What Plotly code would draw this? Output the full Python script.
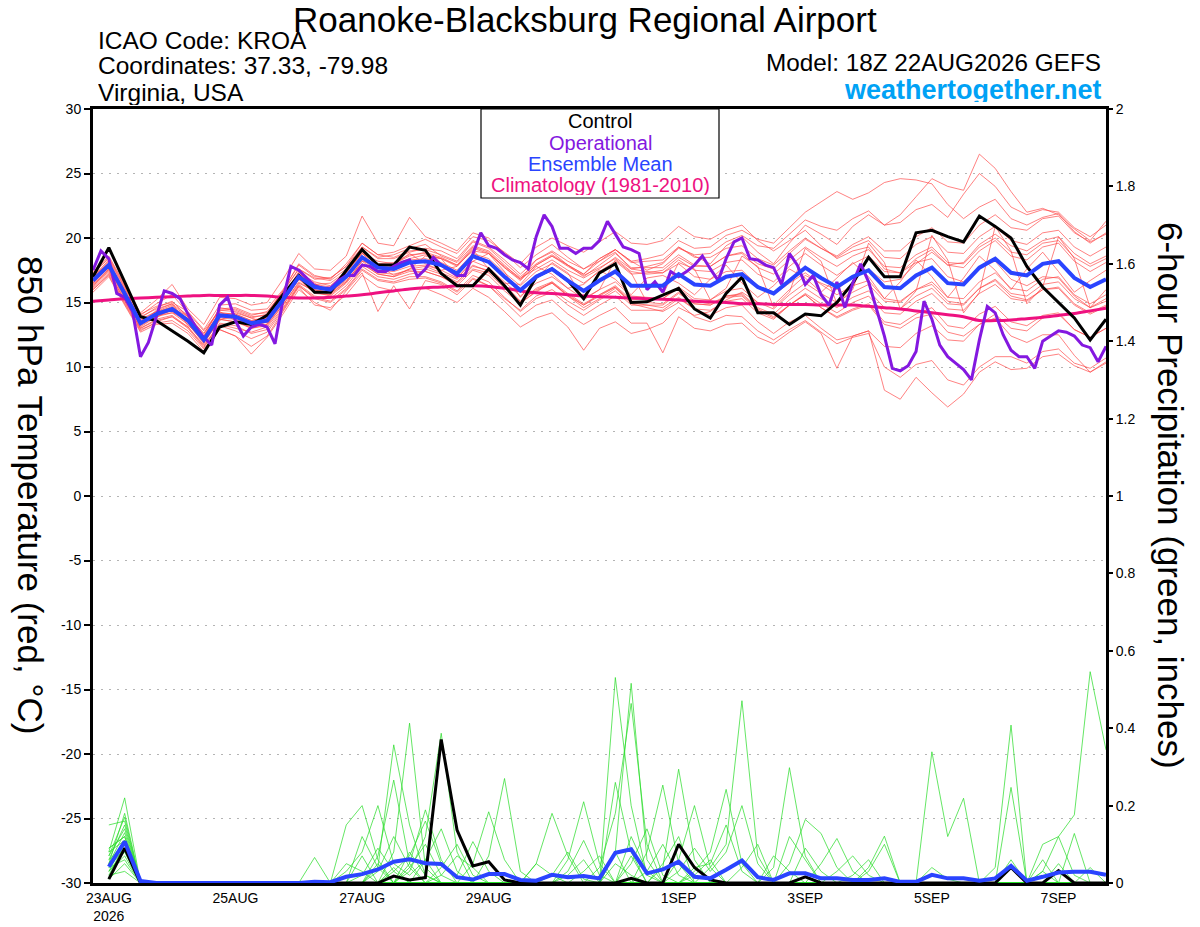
import plotly.graph_objects as go
import pandas as pd

FONT = "Liberation Sans"

# ---------------- time axes ----------------
RUN_START = "2026-08-22 18:00"
RUN_END = "2026-09-07 18:00"
PRCP_START = "2026-08-23 00:00"

x_tickvals = ["2026-08-23", "2026-08-25", "2026-08-27", "2026-08-29",
              "2026-09-01", "2026-09-03", "2026-09-05", "2026-09-07"]
x_ticktext = ["23AUG<br>2026", "25AUG", "27AUG", "29AUG", "1SEP", "3SEP", "5SEP", "7SEP"]

y_tickvals = list(range(-30, 31, 5))
y_ticktext = [str(v) for v in y_tickvals]
y2_tickvals = [0, 0.2, 0.4, 0.6, 0.8, 1.0, 1.2, 1.4, 1.6, 1.8, 2.0]
y2_ticktext = ["0", "0.2", "0.4", "0.6", "0.8", "1", "1.2", "1.4", "1.6", "1.8", "2"]

# ---------------- 850 hPa temperature (6-hourly, 65 values) ----------------
temp_control = [17.0, 19.25, 16.6, 13.9, 13.6, 12.8, 12.0, 11.1, 13.1, 13.5,
                13.3, 14.0, 15.6, 17.1, 15.8, 15.8, 17.5, 19.1, 17.9, 17.9,
                19.3, 19.05, 17.25, 16.3, 16.3, 17.6, 16.3, 14.8, 17.0, 17.6,
                16.7, 15.3, 17.3, 18.0, 15.0, 15.05, 15.6, 16.1, 14.5, 13.8,
                15.7, 16.96, 14.2, 14.2, 13.3, 14.1, 13.97, 15.0, 16.5, 18.5,
                17.0, 17.0, 20.4, 20.6, 20.1, 19.7, 21.7, 20.9, 20.0, 17.8,
                16.2, 15.0, 13.8, 12.1, 13.7]

temp_mean = [16.7, 17.9, 15.7, 13.4, 14.1, 14.5, 13.6, 12.1, 14.0, 13.9,
             13.4, 13.6, 15.2, 17.0, 16.2, 16.0, 17.0, 18.5, 17.7, 17.6,
             18.1, 18.2, 17.9, 17.25, 18.6, 18.15, 17.0, 15.95, 17.0, 17.6,
             16.7, 15.9, 16.7, 17.4, 16.3, 16.3, 16.3, 17.2, 16.4, 16.3,
             17.0, 17.2, 16.2, 15.7, 16.75, 17.7, 16.9, 16.2, 17.0, 17.5,
             16.2, 16.1, 17.1, 17.7, 16.5, 16.4, 17.7, 18.4, 17.3, 17.1,
             18.0, 18.2, 16.9, 16.2, 16.8]

temp_clim = [15.1, 15.2, 15.3, 15.35, 15.4, 15.45, 15.5, 15.55, 15.55, 15.55,
             15.55, 15.5, 15.4, 15.35, 15.35, 15.4, 15.5, 15.6, 15.75, 15.9,
             16.05, 16.15, 16.2, 16.3, 16.3, 16.25, 16.1, 15.9, 15.75, 15.7,
             15.6, 15.5, 15.45, 15.4, 15.35, 15.3, 15.25, 15.2, 15.1, 15.05,
             15.0, 14.9, 14.9, 14.85, 14.85, 14.85, 14.8, 14.8, 14.8, 14.7,
             14.6, 14.5, 14.35, 14.2, 14.05, 13.9, 13.6, 13.6, 13.65, 13.75,
             13.85, 14.0, 14.15, 14.35, 14.55]

# operational run, 3-hourly (129 values)
temp_oper = [17.5, 19.0, 18.4, 15.7,  15.4, 14.3, 10.8, 11.9,
             13.9, 15.9, 15.7, 15.3,  14.1, 13.1, 12.3, 11.7,
             14.8, 15.4, 13.6, 12.4,  13.1, 13.3, 13.1, 11.8,
             15.2, 17.8, 17.5, 16.9,  16.3, 16.1, 16.1, 16.7,
             17.1, 17.1, 17.9, 17.8,  17.4, 17.4, 17.8, 18.1,
             18.3, 17.0, 17.6, 18.5,  17.9, 17.5, 17.1, 17.1,
             18.7, 20.4, 19.4, 19.2,  18.7, 18.3, 18.1, 17.6,
             20.1, 21.8, 20.9, 19.2,  19.2, 18.8, 19.2, 19.2,
             19.8, 21.3, 20.3, 19.3,  19.1, 18.8, 16.0, 16.6,
             15.8, 17.4, 17.0, 17.4,  17.9, 18.6, 17.6, 16.7,
             18.4, 19.7, 20.0, 18.4,  18.3, 17.9, 17.7, 16.4,
             18.8, 17.9, 16.4, 17.1,  15.6, 14.8, 16.6, 14.6,
             16.5, 18.0, 16.6, 14.4,  12.4, 9.9, 9.7, 10.1,
             11.2, 15.1, 13.7, 11.7,  10.8, 10.3, 9.8, 9.0,
             12.1, 14.7, 14.2, 12.5,  11.3, 10.8, 10.8, 9.9,
             12.0, 12.4, 12.8, 12.7,  12.4, 11.7, 11.5, 10.4,
             11.6]

# ensemble members (6-hourly, 65 values each)
temp_m01 = [16.9, 18.2, 15.9, 13.8, 14.6, 15.1, 13.9, 12.6, 14.5, 14.6,
            14.1, 14.2, 15.9, 17.6, 16.8, 16.9, 17.8, 19.3, 18.5, 18.7,
            19.2, 19.5, 18.6, 18.1, 19.4, 19.0, 17.9, 16.8, 18.3, 18.9,
            17.9, 17.2, 18.4, 19.1, 18.2, 17.5, 18.0, 19.3, 18.6, 18.0,
            19.4, 20.1, 18.9, 18.0, 19.6, 21.0, 20.3, 19.5, 20.9, 21.8,
            21.0, 21.8, 23.2, 24.6, 24.0, 23.7, 26.5, 25.4, 23.6, 22.0,
            22.3, 21.8, 20.7, 19.8, 21.3]
temp_m02 = [16.3, 17.4, 15.1, 13.0, 13.6, 13.9, 13.1, 11.7, 13.3, 13.0,
            12.7, 13.1, 14.6, 16.4, 15.5, 15.3, 16.3, 17.8, 17.0, 16.8,
            17.2, 17.4, 17.0, 16.5, 17.6, 17.3, 16.1, 15.0, 15.8, 16.6,
            15.5, 14.6, 15.3, 16.1, 15.0, 14.8, 14.6, 15.4, 14.5, 14.0,
            14.6, 14.8, 13.5, 12.6, 13.5, 14.0, 13.0, 12.1, 12.4, 12.8,
            8.2, 7.5, 9.2, 8.0, 6.9, 7.9, 9.6, 10.4, 9.8, 9.9,
            10.8, 11.0, 10.1, 9.6, 10.4]
temp_m03 = [17.3, 18.4, 16.2, 14.0, 14.9, 15.6, 14.2, 12.8, 14.4, 14.3,
            13.8, 14.1, 15.9, 18.0, 17.1, 16.8, 18.0, 19.6, 18.7, 18.9,
            19.4, 19.9, 19.3, 18.8, 20.1, 19.8, 18.9, 18.0, 19.3, 20.0,
            19.4, 18.9, 19.7, 20.5, 19.6, 19.5, 19.8, 20.9, 20.1, 19.9,
            20.6, 21.0, 19.8, 19.0, 19.8, 20.6, 19.4, 18.4, 19.0, 19.3,
            17.6, 17.3, 18.1, 18.4, 17.0, 16.6, 17.7, 18.2, 16.8, 16.3,
            17.0, 16.9, 15.5, 14.6, 15.1]
temp_m04 = [16.0, 17.2, 15.0, 12.9, 13.4, 13.6, 12.8, 11.4, 12.9, 12.4,
            11.6, 12.4, 14.3, 16.2, 14.8, 14.6, 15.6, 17.1, 16.2, 15.9,
            16.0, 16.1, 15.6, 15.0, 16.1, 15.4, 14.3, 13.1, 13.8, 14.2,
            13.1, 11.3, 13.0, 13.5, 12.6, 12.9, 13.4, 14.6, 14.0, 14.3,
            15.2, 15.8, 15.0, 14.8, 16.0, 17.1, 16.5, 16.0, 17.0, 17.6,
            16.6, 16.8, 18.0, 18.9, 17.9, 18.1, 19.5, 20.3, 19.4, 19.0,
            19.8, 20.1, 18.8, 18.0, 18.6]
temp_m05 = [16.6, 17.7, 15.5, 13.2, 14.4, 14.9, 13.2, 12.3, 14.3, 13.6,
            13.0, 13.3, 15.4, 17.4, 16.0, 15.6, 17.3, 18.9, 17.3, 17.9,
            18.8, 18.0, 17.5, 17.8, 19.1, 17.6, 16.5, 16.4, 17.8, 17.2,
            16.1, 16.4, 17.5, 16.8, 15.6, 16.9, 17.1, 16.5, 15.6, 16.8,
            17.9, 16.5, 15.4, 16.3, 17.6, 16.9, 15.8, 16.9, 18.1, 17.0,
            15.3, 16.6, 18.3, 17.0, 15.4, 16.9, 18.6, 17.5, 16.0, 17.6,
            18.9, 17.4, 15.8, 16.7, 17.5]
temp_m06 = [17.1, 18.0, 16.0, 13.6, 14.0, 14.2, 13.8, 12.4, 14.2, 14.1,
            13.6, 13.9, 15.0, 16.8, 16.4, 16.5, 17.4, 18.8, 18.2, 18.0,
            18.6, 18.9, 18.5, 17.9, 19.0, 18.8, 17.8, 16.9, 17.6, 18.3,
            17.5, 16.9, 17.6, 18.5, 17.6, 17.8, 18.1, 19.2, 18.7, 18.8,
            19.7, 20.2, 19.4, 19.2, 20.3, 21.4, 20.9, 20.6, 21.5, 22.1,
            21.0, 21.2, 22.2, 22.6, 21.6, 23.4, 25.0, 24.0, 22.4, 21.8,
            22.2, 22.0, 20.8, 20.1, 21.0]
temp_m07 = [16.2, 17.6, 15.4, 13.1, 13.9, 14.4, 13.5, 11.9, 13.8, 13.7,
            13.3, 13.3, 14.8, 16.5, 15.9, 15.8, 16.7, 18.0, 17.2, 17.0,
            17.6, 17.8, 17.3, 16.8, 17.9, 17.4, 16.4, 15.1, 16.1, 16.6,
            15.7, 14.9, 15.6, 16.2, 14.9, 14.6, 14.3, 15.0, 13.9, 13.5,
            14.0, 13.9, 12.8, 12.1, 12.9, 13.6, 12.7, 11.8, 12.3, 12.6,
            10.0, 9.2, 10.2, 10.5, 9.0, 8.6, 10.0, 10.8, 10.8, 10.3,
            11.2, 11.4, 10.3, 9.9, 10.7]
temp_m08 = [16.9, 18.1, 15.8, 13.7, 14.3, 14.8, 13.9, 12.4, 14.6, 14.4,
            13.9, 14.0, 15.6, 17.3, 16.6, 16.3, 17.4, 19.0, 18.0, 18.1,
            18.7, 18.8, 18.4, 17.9, 19.3, 18.9, 17.7, 16.7, 17.9, 18.6,
            17.8, 17.1, 17.7, 18.4, 17.4, 17.2, 17.3, 18.3, 17.5, 17.4,
            18.1, 18.3, 17.2, 16.6, 17.8, 18.8, 17.9, 17.1, 18.0, 18.6,
            17.4, 17.3, 18.4, 19.1, 17.9, 17.7, 19.0, 19.8, 18.6, 18.3,
            19.3, 19.6, 18.2, 17.4, 18.1]
temp_m09 = [16.5, 17.8, 15.6, 13.5, 13.8, 14.6, 13.9, 11.9, 13.6, 14.2,
            13.8, 13.4, 14.9, 17.2, 16.5, 15.7, 16.6, 18.2, 17.9, 17.1,
            17.6, 18.6, 18.4, 16.9, 18.2, 18.8, 17.4, 15.4, 16.8, 18.1,
            17.3, 15.2, 16.0, 18.3, 17.3, 15.0, 15.6, 18.1, 17.6, 15.2,
            16.1, 18.6, 17.8, 14.6, 15.8, 19.2, 18.2, 14.9, 16.0, 19.6,
            18.1, 14.5, 15.9, 20.2, 18.3, 14.2, 15.8, 20.9, 19.0, 14.9,
            16.2, 20.1, 18.4, 14.6, 16.0]
temp_m10 = [16.4, 17.5, 15.3, 13.3, 14.2, 14.3, 13.4, 11.8, 13.7, 13.5,
            13.1, 13.5, 15.1, 16.8, 15.7, 15.6, 16.6, 18.2, 17.3, 17.2,
            17.5, 17.6, 17.2, 16.6, 17.8, 17.5, 16.2, 15.1, 16.0, 16.5,
            15.5, 14.8, 15.5, 16.2, 15.1, 15.0, 14.9, 15.8, 14.9, 14.8,
            15.4, 15.5, 14.4, 13.8, 14.8, 15.6, 14.6, 13.9, 14.5, 14.9,
            13.5, 13.3, 14.1, 14.6, 13.2, 13.0, 14.1, 14.7, 13.5, 13.2,
            14.0, 14.2, 12.9, 12.3, 13.0]
temp_m11 = [17.0, 18.3, 16.1, 13.9, 14.5, 14.9, 14.0, 12.6, 14.4, 14.5,
            14.0, 14.3, 15.8, 17.6, 16.9, 16.7, 17.6, 19.3, 18.4, 18.4,
            18.9, 19.2, 19.0, 18.4, 19.8, 19.3, 18.3, 17.2, 18.3, 19.0,
            18.2, 17.6, 18.4, 19.1, 18.1, 18.2, 18.3, 19.3, 18.5, 18.5,
            19.2, 19.4, 18.4, 17.9, 19.0, 20.0, 19.2, 18.5, 19.3, 19.8,
            18.5, 18.4, 19.5, 20.1, 18.9, 18.8, 20.1, 20.9, 19.8, 19.5,
            20.4, 20.6, 19.3, 18.6, 19.3]
temp_m12 = [16.4, 17.6, 15.5, 13.2, 13.9, 14.2, 13.3, 11.9, 13.7, 13.5,
            13.0, 13.2, 14.8, 16.6, 15.8, 15.5, 16.5, 18.0, 17.2, 17.0,
            17.4, 17.4, 17.0, 16.3, 17.5, 17.1, 15.9, 14.9, 15.9, 16.5,
            15.6, 14.8, 15.6, 16.3, 15.2, 15.3, 15.3, 16.2, 15.3, 15.2,
            15.9, 16.1, 15.0, 14.5, 15.6, 16.5, 15.7, 15.0, 15.8, 16.4,
            15.1, 15.0, 16.0, 16.6, 15.4, 15.3, 16.6, 17.3, 16.1, 15.9,
            16.8, 17.0, 15.6, 14.9, 15.6]
temp_m13 = [16.8, 18.0, 15.9, 13.5, 14.2, 14.7, 13.7, 12.2, 14.2, 14.1,
            13.6, 13.8, 15.4, 17.2, 16.4, 16.2, 17.3, 18.8, 17.9, 17.9,
            18.4, 18.7, 18.4, 17.8, 19.2, 18.8, 17.7, 16.8, 17.9, 18.6,
            17.9, 17.2, 18.2, 19.1, 18.2, 18.4, 18.7, 19.8, 19.2, 19.3,
            20.2, 20.6, 19.9, 19.6, 20.8, 22.0, 22.8, 23.6, 23.0, 23.5,
            24.3, 24.6, 24.5, 24.2, 22.6, 21.5, 22.4, 23.0, 21.5, 21.0,
            21.6, 21.9, 20.5, 19.6, 20.4]
temp_m14 = [16.1, 17.3, 15.2, 13.0, 13.7, 14.0, 13.1, 11.6, 13.2, 12.8,
            12.2, 12.7, 14.4, 16.3, 15.3, 15.0, 16.0, 17.5, 16.7, 16.5,
            16.8, 16.9, 16.5, 15.8, 16.9, 16.3, 15.1, 13.9, 14.8, 15.2,
            14.1, 13.3, 14.0, 14.6, 13.4, 13.4, 11.1, 13.9, 13.0, 12.8,
            13.3, 13.4, 12.3, 11.8, 12.7, 13.5, 12.6, 9.9, 12.4, 12.8,
            11.6, 11.5, 12.6, 13.2, 12.1, 12.0, 13.3, 14.1, 13.0, 12.8,
            13.8, 14.1, 12.9, 12.3, 13.0]
temp_m15 = [17.2, 18.5, 16.3, 14.1, 14.7, 15.0, 14.3, 12.9, 14.8, 14.9,
            14.4, 14.5, 16.0, 17.9, 17.0, 16.9, 17.8, 19.6, 18.7, 18.5,
            19.0, 19.1, 18.7, 18.2, 19.7, 19.2, 18.1, 17.0, 18.0, 18.7,
            17.9, 17.0, 17.9, 18.8, 17.7, 17.7, 17.7, 18.7, 17.9, 17.8,
            18.6, 18.8, 17.7, 17.2, 18.3, 19.3, 18.5, 17.8, 18.6, 19.1,
            17.8, 17.7, 18.7, 19.3, 18.1, 18.0, 19.3, 20.0, 18.9, 18.7,
            19.6, 19.8, 18.5, 17.8, 18.4]
temp_m16 = [16.0, 17.1, 14.9, 12.8, 13.5, 13.9, 13.0, 11.5, 13.4, 13.2,
            12.6, 12.9, 14.5, 16.3, 15.4, 15.1, 16.1, 17.6, 16.8, 16.6,
            17.0, 17.0, 16.6, 15.9, 17.1, 16.6, 15.4, 14.3, 15.3, 15.8,
            14.8, 14.0, 14.8, 15.5, 14.4, 14.4, 14.4, 15.3, 14.5, 14.4,
            15.1, 15.3, 14.2, 13.7, 14.8, 15.7, 14.9, 14.2, 15.0, 15.5,
            14.2, 14.1, 15.1, 15.7, 14.5, 14.4, 15.7, 16.4, 15.3, 15.1,
            16.0, 16.2, 14.9, 14.2, 14.8]
temp_m17 = [16.7, 17.9, 15.7, 13.6, 14.3, 14.6, 13.6, 12.2, 14.1, 14.0,
            13.5, 13.8, 15.3, 17.1, 16.3, 16.1, 17.1, 18.6, 17.8, 17.7,
            18.3, 18.4, 18.1, 17.5, 18.8, 18.4, 17.3, 16.3, 17.4, 18.0,
            17.2, 16.5, 17.4, 18.2, 17.2, 17.3, 17.5, 18.5, 17.8, 17.8,
            18.6, 18.9, 18.0, 17.6, 18.8, 19.9, 19.2, 18.6, 19.5, 20.1,
            19.0, 19.0, 20.1, 20.8, 19.7, 19.6, 21.0, 21.8, 20.8, 20.6,
            21.5, 21.7, 20.4, 19.7, 20.3]
temp_m18 = [16.5, 17.7, 15.6, 13.3, 14.0, 14.4, 13.5, 12.0, 13.9, 13.8,
            13.2, 13.5, 15.0, 16.8, 16.0, 15.8, 16.8, 18.3, 17.5, 17.4,
            17.8, 17.9, 17.5, 16.9, 18.2, 17.7, 16.6, 15.5, 16.5, 17.0,
            16.1, 15.3, 16.0, 16.6, 15.5, 15.4, 15.3, 16.1, 15.1, 14.9,
            15.5, 15.6, 14.5, 13.9, 14.8, 15.6, 14.6, 13.8, 14.4, 14.8,
            13.3, 13.0, 13.8, 14.1, 12.7, 12.4, 13.3, 13.8, 12.4, 11.9,
            12.5, 12.5, 10.9, 9.6, 10.3]
temp_m19 = [17.4, 18.6, 16.4, 14.2, 15.2, 16.4, 14.5, 13.3, 15.4, 15.3,
            14.8, 15.0, 16.8, 18.8, 17.6, 17.5, 18.6, 21.7, 19.6, 19.4,
            21.6, 20.1, 19.6, 19.0, 20.4, 20.0, 18.8, 17.7, 18.7, 19.5,
            18.5, 17.6, 18.2, 18.9, 17.6, 17.4, 17.3, 18.0, 17.0, 16.8,
            17.4, 17.5, 16.3, 15.6, 16.5, 17.3, 16.4, 15.6, 16.3, 16.7,
            15.3, 15.1, 16.0, 16.4, 15.1, 14.9, 16.1, 16.7, 15.5, 15.2,
            16.0, 16.1, 14.8, 14.1, 14.7]
temp_m20 = [15.8, 17.0, 14.8, 12.7, 13.3, 13.4, 12.6, 11.2, 12.9, 12.4,
            11.0, 12.3, 14.1, 16.0, 15.0, 14.4, 15.9, 17.3, 14.3, 16.3,
            14.5, 16.7, 16.4, 15.6, 16.8, 16.3, 15.3, 14.4, 15.5, 16.0,
            15.1, 14.4, 15.2, 15.9, 14.8, 14.8, 14.8, 15.7, 14.9, 14.8,
            15.5, 15.7, 14.6, 14.1, 15.2, 16.1, 15.3, 14.6, 15.4, 15.9,
            14.6, 14.5, 15.5, 16.1, 14.9, 14.8, 16.1, 16.8, 15.7, 15.5,
            16.4, 16.6, 15.3, 14.6, 15.3]

# ---------------- 6-hour precipitation (64 values, from 23AUG 00Z) ----------------
prcp_control = [0.01, 0.09, 0, 0, 0, 0, 0, 0,
                0, 0, 0, 0, 0, 0, 0, 0,
                0, 0, 0.018, 0.008, 0.014, 0.371, 0.137, 0.044,
                0.055, 0.008, 0, 0, 0, 0, 0, 0,
                0, 0.012, 0, 0, 0.10, 0.04, 0.008, 0,
                0, 0, 0, 0, 0.016, 0, 0, 0,
                0, 0, 0, 0, 0, 0, 0, 0,
                0, 0.04, 0, 0, 0.032, 0, 0, 0]

prcp_mean = [0.042, 0.107, 0.005, 0, 0, 0, 0, 0,
             0, 0, 0, 0, 0, 0.003, 0.002, 0.016,
             0.023, 0.035, 0.055, 0.061, 0.051, 0.049, 0.015, 0.009,
             0.023, 0.023, 0.008, 0.006, 0.021, 0.015, 0.018, 0.012,
             0.078, 0.087, 0.025, 0.035, 0.055, 0.016, 0.012, 0.034,
             0.058, 0.015, 0.008, 0.025, 0.025, 0.012, 0.012, 0.008,
             0.008, 0.012, 0.003, 0.003, 0.021, 0.012, 0.012, 0.006,
             0.012, 0.044, 0.006, 0.016, 0.027, 0.029, 0.029, 0.021]

prcp_m01 = [0.09, 0.12, 0, 0, 0, 0, 0, 0,
            0, 0, 0, 0, 0, 0, 0, 0,
            0.02, 0.09, 0.03, 0, 0, 0, 0, 0,
            0, 0, 0, 0, 0.02, 0.08, 0.01, 0,
            0.531, 0.2, 0.02, 0, 0, 0, 0, 0,
            0, 0, 0, 0, 0, 0, 0, 0,
            0.03, 0.1, 0, 0, 0, 0, 0, 0,
            0, 0, 0, 0, 0, 0, 0, 0]
prcp_m02 = [0.15, 0.16, 0, 0, 0, 0, 0, 0,
            0, 0, 0, 0, 0, 0, 0, 0,
            0, 0.04, 0.357, 0.15, 0.02, 0, 0, 0,
            0, 0, 0, 0, 0, 0, 0, 0,
            0.08, 0.516, 0.06, 0, 0, 0, 0, 0,
            0, 0, 0, 0, 0, 0, 0, 0,
            0, 0, 0, 0, 0, 0, 0, 0,
            0, 0.247, 0, 0, 0, 0, 0, 0]
prcp_m03 = [0.08, 0.22, 0, 0, 0, 0, 0, 0,
            0, 0, 0, 0, 0, 0, 0, 0.15,
            0.20, 0.06, 0, 0, 0, 0, 0, 0,
            0, 0, 0, 0, 0, 0, 0, 0,
            0, 0.05, 0.14, 0.02, 0, 0, 0, 0,
            0, 0, 0, 0, 0.09, 0.03, 0, 0,
            0, 0, 0, 0, 0, 0, 0, 0,
            0, 0, 0, 0, 0, 0, 0, 0]
prcp_m04 = [0.05, 0.18, 0, 0, 0, 0, 0, 0,
            0, 0, 0, 0, 0, 0, 0, 0,
            0, 0.03, 0.12, 0.04, 0, 0, 0, 0,
            0, 0, 0, 0, 0, 0, 0, 0,
            0, 0.12, 0.03, 0, 0, 0, 0, 0,
            0, 0, 0, 0, 0, 0, 0, 0,
            0, 0, 0, 0, 0.04, 0.01, 0, 0,
            0, 0, 0, 0, 0, 0, 0, 0]
prcp_m05 = [0.07, 0.14, 0, 0, 0, 0, 0, 0,
            0, 0, 0, 0, 0, 0.066, 0, 0,
            0, 0, 0, 0, 0, 0, 0, 0,
            0, 0, 0, 0, 0, 0.03, 0.11, 0.02,
            0, 0, 0.08, 0.253, 0.05, 0, 0, 0,
            0, 0, 0, 0, 0, 0, 0, 0,
            0, 0, 0, 0, 0, 0, 0, 0,
            0, 0, 0, 0.06, 0, 0, 0, 0]
prcp_m06 = [0.02, 0.10, 0, 0, 0, 0, 0, 0,
            0, 0, 0, 0, 0, 0, 0, 0.03,
            0.08, 0.20, 0.05, 0.02, 0.06, 0.14, 0.03, 0,
            0, 0, 0, 0, 0, 0, 0, 0,
            0, 0, 0, 0.04, 0.294, 0.06, 0, 0,
            0, 0, 0, 0, 0, 0, 0, 0,
            0, 0, 0, 0, 0, 0, 0, 0,
            0, 0, 0, 0, 0.05, 0, 0, 0]
prcp_m07 = [0.09, 0.12, 0, 0, 0, 0, 0, 0,
            0, 0, 0, 0, 0, 0, 0, 0.05,
            0.03, 0, 0, 0.04, 0.10, 0.02, 0, 0,
            0, 0, 0, 0, 0, 0.02, 0.06, 0,
            0.26, 0.08, 0, 0, 0.06, 0.2, 0.04, 0,
            0, 0, 0, 0, 0, 0, 0, 0,
            0, 0, 0, 0, 0, 0, 0, 0,
            0, 0, 0, 0, 0, 0, 0, 0]
prcp_m08 = [0.03, 0.07, 0, 0, 0, 0, 0, 0,
            0, 0, 0, 0, 0, 0, 0, 0,
            0.12, 0.04, 0, 0, 0, 0, 0, 0,
            0, 0, 0, 0, 0, 0, 0, 0,
            0, 0, 0, 0, 0, 0.03, 0.08, 0.242,
            0.05, 0, 0, 0, 0, 0, 0, 0,
            0, 0, 0, 0, 0, 0, 0, 0,
            0, 0.06, 0, 0, 0, 0, 0, 0]
prcp_m09 = [0.06, 0.15, 0, 0, 0, 0, 0, 0,
            0, 0, 0, 0, 0, 0, 0, 0,
            0, 0.07, 0.266, 0.05, 0, 0, 0, 0,
            0, 0, 0, 0, 0, 0, 0, 0.04,
            0.18, 0.464, 0.1, 0, 0, 0, 0, 0,
            0, 0, 0, 0, 0, 0, 0, 0,
            0, 0, 0, 0, 0, 0, 0, 0,
            0, 0, 0, 0.03, 0.12, 0.02, 0, 0]
prcp_m10 = [0.04, 0.09, 0, 0, 0, 0, 0, 0,
            0, 0, 0, 0, 0, 0, 0, 0,
            0, 0, 0.08, 0.413, 0.04, 0, 0, 0,
            0, 0, 0, 0, 0, 0, 0, 0,
            0.08, 0, 0, 0, 0, 0, 0.04, 0.1,
            0.471, 0.07, 0, 0, 0, 0, 0, 0,
            0, 0, 0, 0, 0, 0, 0, 0,
            0, 0, 0, 0, 0, 0.128, 0, 0]
prcp_m11 = [0.01, 0.05, 0, 0, 0, 0, 0, 0,
            0, 0, 0, 0, 0, 0, 0, 0,
            0.07, 0, 0, 0.05, 0.189, 0.06, 0, 0,
            0, 0, 0, 0, 0, 0, 0, 0,
            0, 0, 0, 0.05, 0.12, 0, 0, 0,
            0.04, 0.1, 0, 0, 0, 0, 0, 0,
            0, 0, 0, 0, 0, 0, 0, 0,
            0, 0, 0, 0, 0, 0, 0.04, 0]
prcp_m12 = [0.08, 0.11, 0, 0, 0, 0, 0, 0,
            0, 0, 0, 0, 0, 0, 0, 0,
            0, 0.05, 0, 0.03, 0.12, 0.387, 0.08, 0,
            0, 0, 0, 0, 0, 0, 0, 0,
            0, 0.07, 0, 0, 0, 0, 0, 0,
            0, 0, 0.04, 0.298, 0.07, 0, 0, 0,
            0, 0, 0, 0, 0, 0, 0, 0,
            0, 0, 0, 0, 0, 0, 0, 0]
prcp_m13 = [0.03, 0.08, 0, 0, 0, 0, 0, 0,
            0, 0, 0, 0, 0, 0, 0, 0,
            0, 0, 0.04, 0, 0, 0.04, 0.10, 0.02,
            0, 0, 0, 0, 0, 0, 0, 0,
            0, 0, 0, 0, 0.03, 0.09, 0.03, 0.08,
            0.2, 0.05, 0, 0, 0, 0, 0, 0,
            0, 0, 0, 0, 0, 0, 0, 0,
            0, 0, 0, 0, 0, 0, 0, 0]
prcp_m14 = [0.05, 0.13, 0, 0, 0, 0, 0, 0,
            0, 0, 0, 0, 0, 0, 0, 0,
            0, 0, 0.03, 0.07, 0.16, 0.05, 0.02, 0.107,
            0.03, 0, 0, 0, 0, 0, 0, 0,
            0, 0, 0, 0, 0, 0.02, 0.06, 0,
            0, 0, 0, 0.05, 0.164, 0.128, 0.04, 0,
            0, 0, 0, 0, 0, 0, 0, 0,
            0, 0, 0, 0, 0, 0, 0, 0]
prcp_m15 = [0.02, 0.03, 0, 0, 0, 0, 0, 0,
            0, 0, 0, 0, 0, 0, 0, 0,
            0, 0, 0, 0.08, 0.02, 0, 0, 0.05,
            0.184, 0.06, 0, 0, 0, 0, 0, 0,
            0.05, 0.02, 0, 0, 0, 0, 0, 0,
            0, 0, 0, 0, 0, 0.05, 0.115, 0.03,
            0, 0, 0, 0, 0, 0, 0, 0,
            0, 0, 0, 0, 0, 0, 0, 0]
prcp_m16 = [0.06, 0.10, 0, 0, 0, 0, 0, 0,
            0, 0, 0, 0, 0, 0, 0, 0,
            0, 0, 0, 0, 0.06, 0, 0, 0,
            0.07, 0.27, 0.03, 0, 0, 0, 0, 0,
            0, 0, 0.03, 0.10, 0.02, 0, 0, 0,
            0, 0, 0, 0, 0, 0, 0, 0.02,
            0.06, 0, 0, 0, 0, 0, 0, 0,
            0, 0, 0, 0, 0, 0, 0, 0]
prcp_m17 = [0.07, 0.17, 0, 0, 0, 0, 0, 0,
            0, 0, 0, 0, 0, 0, 0, 0,
            0, 0, 0, 0, 0, 0.02, 0.07, 0.04,
            0, 0, 0, 0.05, 0.18, 0.07, 0, 0,
            0, 0, 0, 0, 0, 0, 0, 0,
            0, 0, 0.07, 0.03, 0, 0, 0, 0,
            0.04, 0.121, 0, 0, 0, 0, 0, 0,
            0, 0, 0, 0, 0, 0, 0, 0]
prcp_m18 = [0.04, 0.06, 0, 0, 0, 0, 0, 0,
            0, 0, 0, 0, 0, 0, 0, 0,
            0, 0, 0, 0, 0, 0, 0, 0,
            0, 0, 0, 0, 0, 0.06, 0.21, 0.05,
            0, 0, 0, 0, 0, 0, 0, 0,
            0, 0, 0, 0.12, 0.06, 0, 0, 0,
            0, 0, 0, 0, 0.339, 0.12, 0.219, 0,
            0, 0, 0, 0, 0, 0, 0, 0]
prcp_m19 = [0.01, 0.09, 0, 0, 0, 0, 0, 0,
            0, 0, 0, 0, 0, 0, 0, 0,
            0, 0, 0, 0, 0, 0, 0, 0,
            0, 0, 0, 0.05, 0.02, 0, 0, 0,
            0, 0, 0, 0, 0, 0, 0, 0,
            0, 0, 0, 0, 0, 0, 0.03, 0.07,
            0.02, 0, 0, 0, 0, 0, 0, 0,
            0.04, 0.408, 0, 0.03, 0, 0, 0, 0]
prcp_m20 = [0.03, 0.11, 0, 0, 0, 0, 0, 0,
            0, 0, 0, 0, 0, 0, 0, 0,
            0, 0, 0, 0, 0, 0, 0, 0,
            0, 0, 0, 0, 0, 0, 0.03, 0.07,
            0, 0, 0, 0, 0, 0.04, 0.05, 0.15,
            0.03, 0, 0, 0, 0, 0, 0, 0,
            0, 0, 0, 0, 0, 0, 0, 0,
            0, 0, 0, 0.1, 0.12, 0.176, 0.546, 0.344]

temp_members = [temp_m01, temp_m02, temp_m03, temp_m04, temp_m05, temp_m06, temp_m07,
                temp_m08, temp_m09, temp_m10, temp_m11, temp_m12, temp_m13, temp_m14,
                temp_m15, temp_m16, temp_m17, temp_m18, temp_m19, temp_m20]
prcp_members = [prcp_m01, prcp_m02, prcp_m03, prcp_m04, prcp_m05, prcp_m06, prcp_m07,
                prcp_m08, prcp_m09, prcp_m10, prcp_m11, prcp_m12, prcp_m13, prcp_m14,
                prcp_m15, prcp_m16, prcp_m17, prcp_m18, prcp_m19, prcp_m20]

for s in temp_members + [temp_control, temp_mean, temp_clim]:
    assert len(s) == 65, len(s)
for s in prcp_members + [prcp_control, prcp_mean]:
    assert len(s) == 64, len(s)
assert len(temp_oper) == 129, len(temp_oper)

t6 = pd.date_range(RUN_START, periods=65, freq="6h")
t3 = pd.date_range(RUN_START, periods=len(temp_oper), freq="3h")
tp = pd.date_range(PRCP_START, periods=64, freq="6h")

# ---------------- colours ----------------
C_MEMBER_T = "rgba(255,70,70,0.85)"
C_MEMBER_P = "rgba(40,220,40,0.9)"
C_CONTROL = "#000000"
C_OPER = "#8418e0"
C_MEAN = "#2a44ff"
C_CLIM = "#ee1180"

fig = go.Figure()

for m in prcp_members:
    fig.add_trace(go.Scatter(x=tp, y=m, yaxis="y2", mode="lines",
                             line=dict(color=C_MEMBER_P, width=0.8), hoverinfo="skip"))
fig.add_trace(go.Scatter(x=tp, y=prcp_control, yaxis="y2", mode="lines",
                         line=dict(color=C_CONTROL, width=3), hoverinfo="skip"))
fig.add_trace(go.Scatter(x=tp, y=prcp_mean, yaxis="y2", mode="lines",
                         line=dict(color=C_MEAN, width=4), hoverinfo="skip"))

for m in temp_members:
    fig.add_trace(go.Scatter(x=t6, y=m, mode="lines",
                             line=dict(color=C_MEMBER_T, width=0.8), hoverinfo="skip"))
fig.add_trace(go.Scatter(x=t6, y=temp_clim, mode="lines",
                         line=dict(color=C_CLIM, width=3, shape="spline"), hoverinfo="skip"))
fig.add_trace(go.Scatter(x=t6, y=temp_control, mode="lines",
                         line=dict(color=C_CONTROL, width=3), hoverinfo="skip"))
fig.add_trace(go.Scatter(x=t3, y=temp_oper, mode="lines",
                         line=dict(color=C_OPER, width=3), hoverinfo="skip"))
fig.add_trace(go.Scatter(x=t6, y=temp_mean, mode="lines",
                         line=dict(color=C_MEAN, width=4), hoverinfo="skip"))

# ---------------- layout ----------------
L, R, T, B = 93, 1106, 109, 883
W, H = 1200, 927


def px(xp):
    return (xp - L) / (R - L)


def py(yp):
    return (B - yp) / (B - T)


fig.update_layout(
    width=W, height=H,
    margin=dict(l=L, r=W - R, t=T, b=H - B, pad=0, autoexpand=False),
    paper_bgcolor="white", plot_bgcolor="white",
    showlegend=False,
    font=dict(family=FONT, color="black"),
    xaxis=dict(type="date", range=[RUN_START, RUN_END],
               tickvals=x_tickvals, ticktext=x_ticktext,
               tickfont=dict(size=14, family=FONT, color="black"),
               showline=True, linewidth=3, linecolor="black", mirror=True,
               showgrid=False, zeroline=False, ticks="", automargin=False),
    yaxis=dict(range=[-30, 30], tickvals=y_tickvals, ticktext=y_ticktext,
               tickfont=dict(size=14, family=FONT, color="black"),
               ticks="outside", ticklen=6, tickwidth=1.5, tickcolor="black",
               showline=True, linewidth=3, linecolor="black", mirror=True,
               showgrid=True, gridcolor="#b4b4b4", gridwidth=1.3, griddash="2px,6px",
               zeroline=False, automargin=False),
    yaxis2=dict(range=[0, 2], overlaying="y", side="right",
                tickvals=y2_tickvals, ticktext=y2_ticktext,
                tickfont=dict(size=14, family=FONT, color="black"),
                ticks="outside", ticklen=6, tickwidth=1.5, tickcolor="black",
                showline=False, showgrid=False, zeroline=False, automargin=False),
)

# legend box
fig.add_shape(type="rect", xref="paper", yref="paper",
              x0=px(481), x1=px(719), y0=py(198), y1=py(109),
              line=dict(color="black", width=1.2), fillcolor="white", layer="above")

legend_items = [("Control", C_CONTROL, 121), ("Operational", C_OPER, 142.5),
                ("Ensemble Mean", C_MEAN, 164), ("Climatology (1981-2010)", C_CLIM, 185.5)]
for txt, col, yy in legend_items:
    fig.add_annotation(text=txt, xref="paper", yref="paper", x=px(600), y=py(yy),
                       xanchor="center", yanchor="middle", showarrow=False,
                       height=20, borderpad=0,
                       font=dict(size=20, color=col, family=FONT))

# header texts
fig.add_annotation(text="Roanoke-Blacksburg Regional Airport", xref="paper", yref="paper",
                   x=px(585), y=py(19), xanchor="center", yanchor="middle", showarrow=False,
                   font=dict(size=35, family=FONT, color="black"))
for txt, yy in [("ICAO Code: KROA", 40), ("Coordinates: 37.33, -79.98", 66), ("Virginia, USA", 92)]:
    fig.add_annotation(text=txt, xref="paper", yref="paper", x=px(97), y=py(yy),
                       xanchor="left", yanchor="middle", showarrow=False,
                       height=25, borderpad=0,
                       font=dict(size=24.5, family=FONT, color="black"))
fig.add_annotation(text="Model: 18Z 22AUG2026 GEFS", xref="paper", yref="paper",
                   x=px(1102), y=py(63), xanchor="right", yanchor="middle", showarrow=False,
                   height=25, borderpad=0,
                   font=dict(size=24.3, family=FONT, color="black"))
fig.add_annotation(text="<b>weathertogether.net</b>", xref="paper", yref="paper",
                   x=px(1103), y=py(89), xanchor="right", yanchor="middle", showarrow=False,
                   height=25, borderpad=0,
                   font=dict(size=27, family=FONT, color="#00a2f5"))

# axis titles (rotated clockwise, reading top to bottom)
fig.add_annotation(text="850 hPa Temperature (red, \u00b0C)", xref="paper", yref="paper",
                   x=px(30), y=py(495), xanchor="center", yanchor="middle", showarrow=False,
                   textangle=90, font=dict(size=35, family=FONT, color="black"))
fig.add_annotation(text="6-hour Precipitation (green, inches)", xref="paper", yref="paper",
                   x=px(1170), y=py(495), xanchor="center", yanchor="middle", showarrow=False,
                   textangle=90, font=dict(size=35, family=FONT, color="black"))

fig.write_html("out.html", config={"displayModeBar": False},
               post_script="document.body.style.margin='0';")
